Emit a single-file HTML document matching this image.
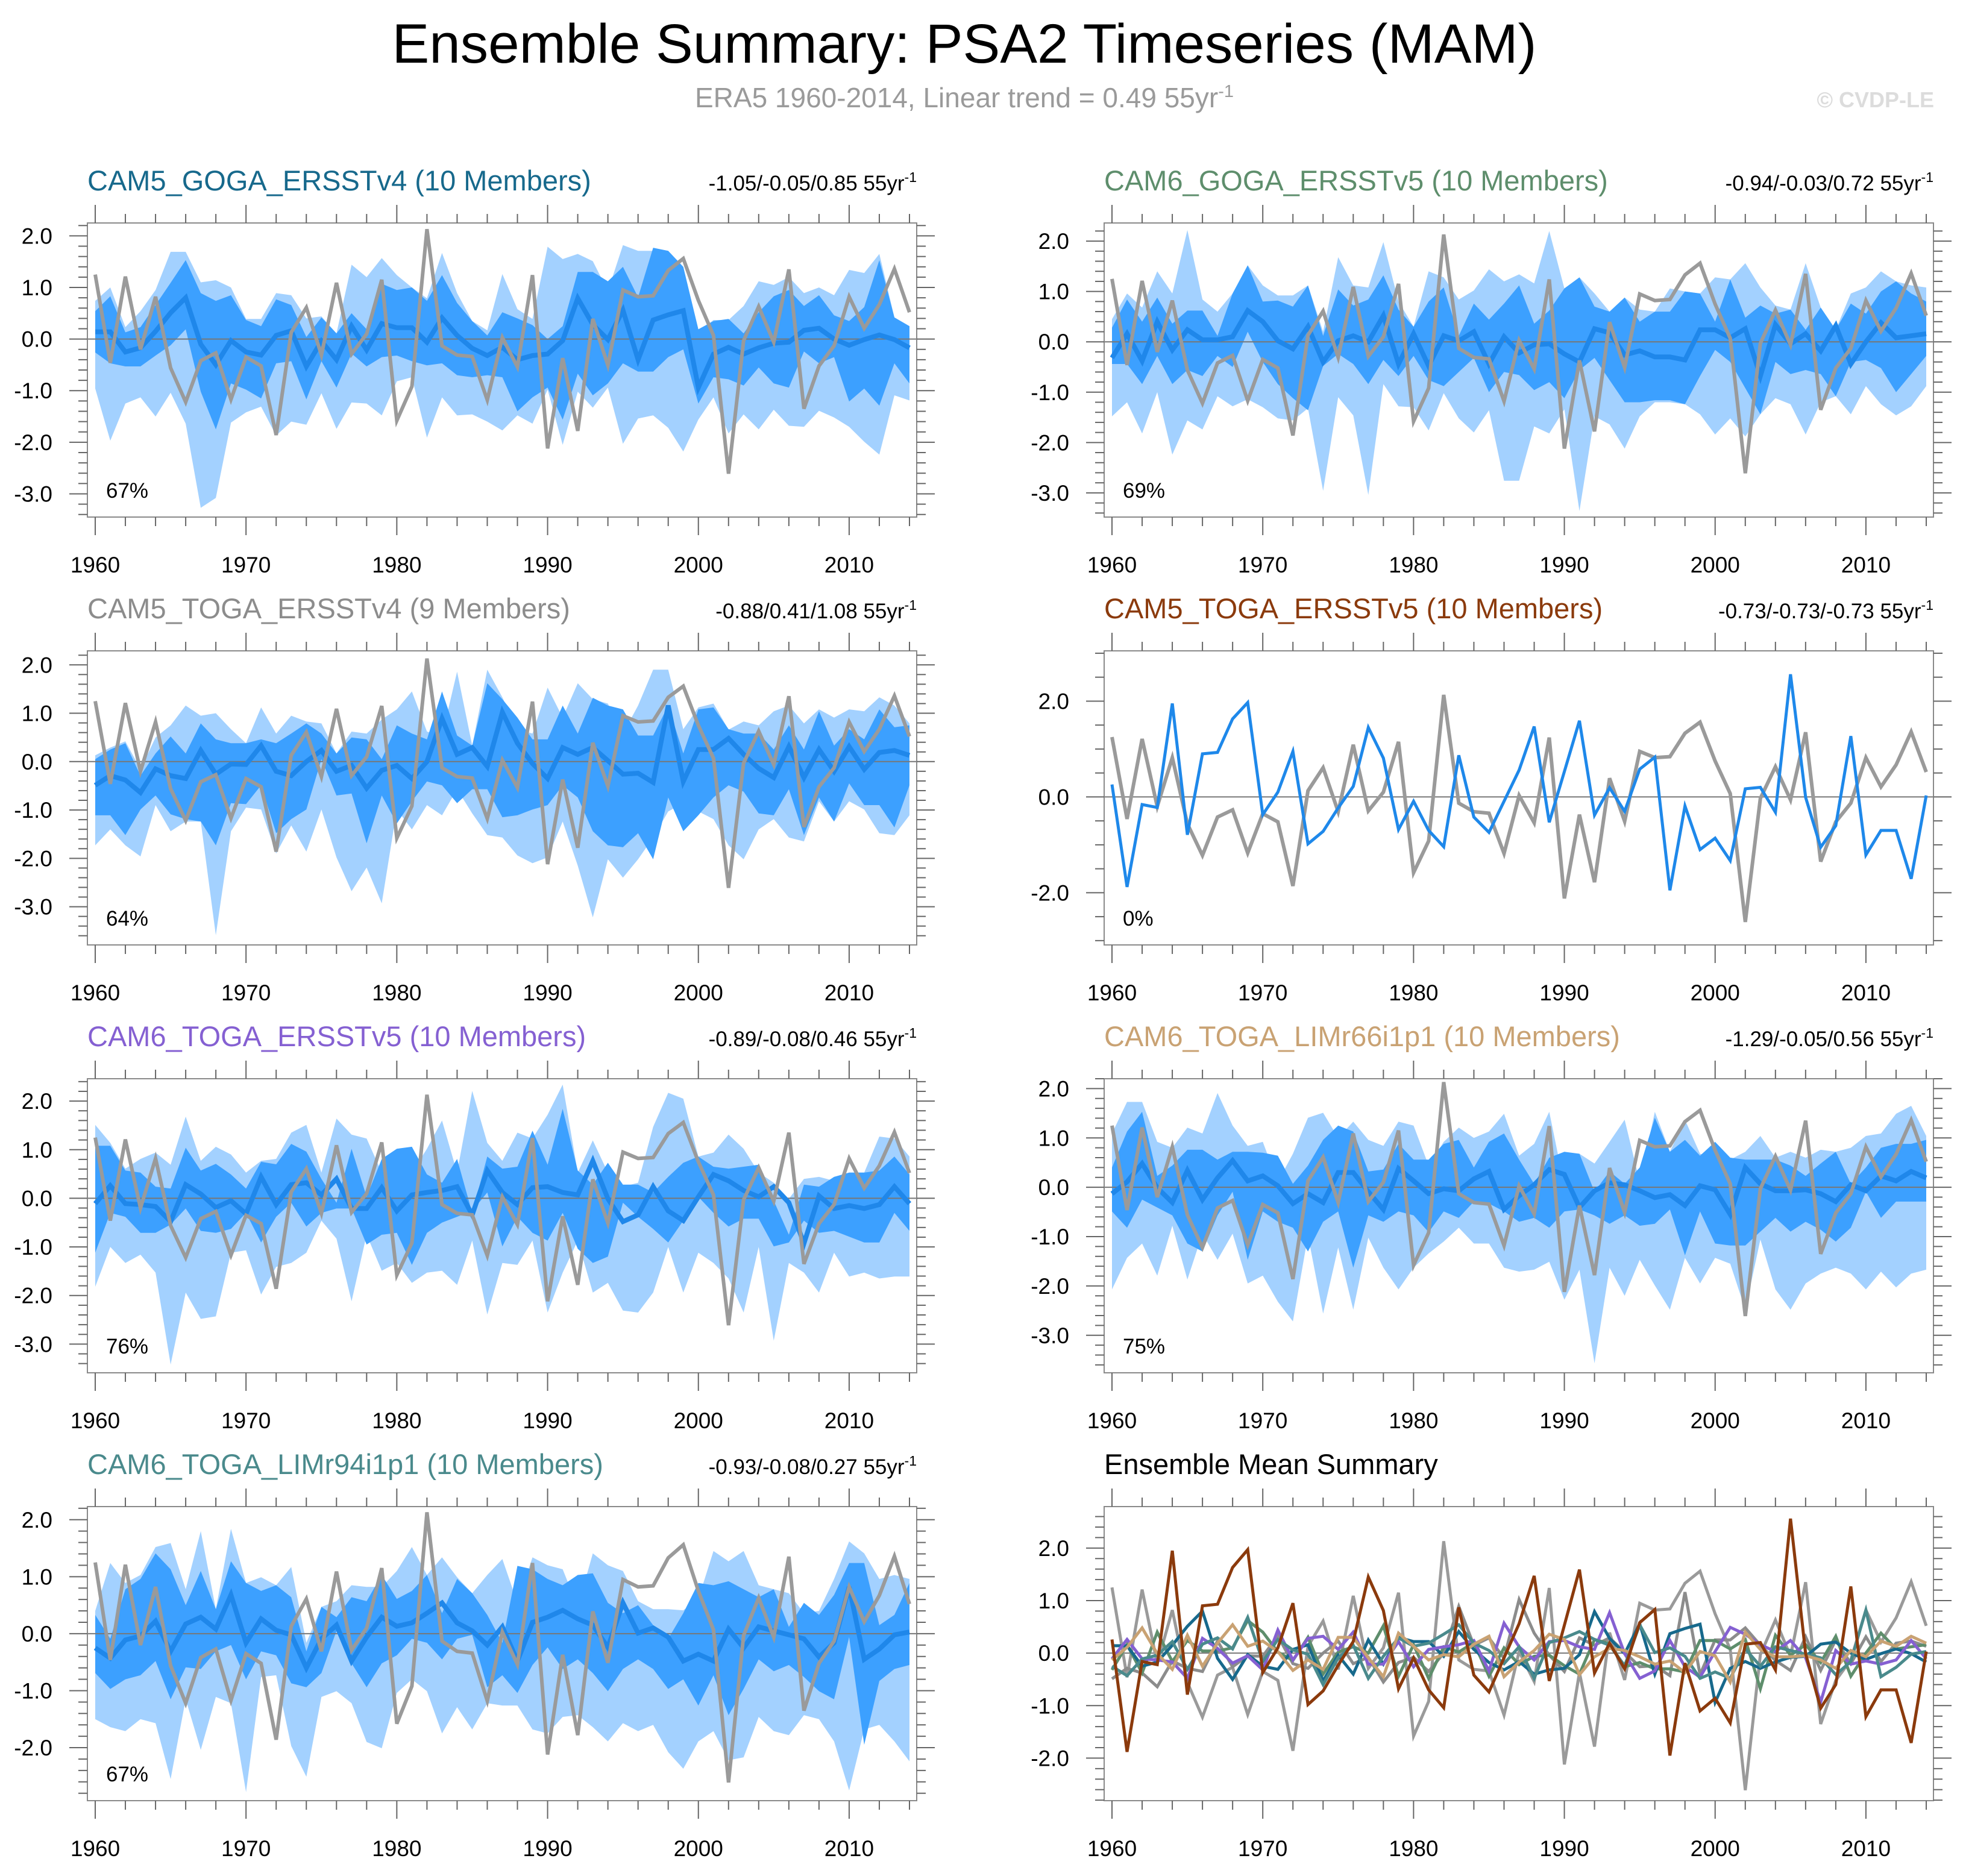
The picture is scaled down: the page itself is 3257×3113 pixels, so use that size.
<!DOCTYPE html>
<html><head><meta charset="utf-8"><title>Ensemble Summary: PSA2 Timeseries (MAM)</title>
<style>html,body{margin:0;padding:0;background:#fff}svg{display:block;font-family:"Liberation Sans",sans-serif}</style>
</head><body>
<svg id="chart" width="3257" height="3113" viewBox="0 0 3257 3113" xmlns="http://www.w3.org/2000/svg">
<text x="1600" y="104" font-size="92" text-anchor="middle" textLength="1899" lengthAdjust="spacingAndGlyphs" fill="#000">Ensemble Summary: PSA2 Timeseries (MAM)</text>
<text x="1600" y="178" font-size="46" text-anchor="middle" fill="#9a9a9a">ERA5 1960-2014, Linear trend = 0.49 55yr<tspan font-size="29" dy="-17">-1</tspan></text>
<text x="3209" y="178" font-size="36" font-weight="bold" text-anchor="end" fill="#dcdcdc">© CVDP-LE</text>
</svg>
<script>
const era = [1.25,-0.46,1.21,-0.2,0.82,-0.56,-1.22,-0.42,-0.27,-1.17,-0.35,-0.52,-1.86,0.13,0.61,-0.31,1.09,-0.29,0.1,1.15,-1.58,-0.92,2.13,-0.13,-0.31,-0.34,-1.18,0.03,-0.54,1.24,-2.12,-0.37,-1.78,0.39,-0.51,0.95,0.82,0.84,1.33,1.56,0.75,0.07,-2.61,-0.03,0.63,-0.06,1.35,-1.35,-0.52,-0.13,0.82,0.21,0.67,1.36,0.52];

const p1Mean = [0.14,0.14,-0.25,-0.17,0.15,0.51,0.8,-0.1,-0.5,-0.03,-0.25,-0.31,0.07,0.16,-0.53,-0.04,-0.4,0.25,-0.21,0.3,0.22,0.22,-0.06,0.41,0.07,-0.18,-0.32,-0.16,-0.4,-0.32,-0.29,-0.03,0.79,0.28,-0.01,0.56,-0.4,0.37,0.47,0.55,-0.94,-0.29,-0.16,-0.29,-0.17,-0.08,-0.06,0.17,0.21,0,-0.12,-0.01,0.08,-0.01,-0.17];
const p1InHi = [0.54,0.83,0.13,0.23,0.66,1.09,1.53,0.89,0.74,0.85,0.37,0.25,0.77,0.66,0.04,0.42,0.11,0.5,0.19,1.07,0.95,1.0,0.74,1.24,0.7,0.35,0.07,0.52,0.4,0.27,0,0.25,1.3,1.3,1.12,1.4,0.81,1.77,1.71,1.4,0.19,0.35,0.39,0.11,0.52,0.83,0.95,0.64,0.85,0.46,0.35,0.62,1.53,0.42,0.25];
const p1InLo = [-0.26,-0.47,-0.53,-0.53,-0.32,-0.12,0.19,-1.02,-1.75,-0.86,-0.98,-1.15,-0.47,-0.43,-1.17,-0.43,-0.94,-0.28,-0.53,-0.35,-0.32,-0.43,-0.51,-0.47,-0.7,-0.74,-0.7,-0.74,-1.4,-1.13,-0.94,-1.56,-0.67,-1.09,-0.86,-0.47,-0.63,-0.63,-0.35,-0.2,-1.25,-0.74,-0.78,-0.9,-0.55,-0.86,-0.94,-0.24,-0.47,-0.35,-1.21,-0.96,-1.29,-0.47,-0.86];
const p1OutHi = [0.74,1.0,0.23,0.54,0.95,1.69,1.69,1.1,1.14,1.0,0.39,0.39,0.89,0.85,0.4,0.44,0.11,1.44,1.2,1.57,1.24,1.0,0.79,1.67,0.89,0.35,0.17,1.26,0.58,0.39,1.79,1.55,1.65,1.51,0.93,1.82,1.71,1.71,1.71,1.2,0.13,0.37,0.37,0.64,1.12,1.05,1.2,0.89,1.0,0.85,1.34,1.28,1.65,0.42,0.25];
const p1OutLo = [-0.96,-1.97,-1.25,-1.13,-1.5,-1.04,-1.64,-3.27,-3.08,-1.62,-1.42,-1.31,-1.87,-1.6,-1.66,-1.05,-1.74,-1.23,-1.25,-1.48,-0.82,-0.74,-1.91,-1.13,-1.48,-1.46,-1.6,-1.77,-1.48,-1.64,-0.98,-2.05,-1.02,-1.33,-0.94,-2.03,-1.54,-1.48,-1.72,-2.18,-1.56,-1.13,-1.83,-1.46,-1.75,-1.37,-1.68,-1.7,-1.39,-1.52,-1.7,-1.99,-2.24,-1.09,-1.19];

const p2Mean = [-0.32,0.16,-0.38,0.4,-0.16,0.24,0.04,0.04,0.1,0.62,0.4,0.02,-0.14,0.3,-0.4,0.02,0.12,0,0.52,-0.44,0.16,-0.48,0.12,0.02,0.2,-0.44,0.1,-0.22,-0.06,-0.04,-0.24,-0.4,0.26,0.18,-0.26,-0.18,-0.3,-0.3,-0.36,0.24,0.24,0.08,0.26,-0.68,0.34,-0.04,0.16,-0.18,0.32,-0.44,0,0.38,0.08,0.12,0.16];
const p2InHi = [0.28,0.84,0.4,0.88,0.36,0.62,0.62,0.12,0.96,1.52,0.8,0.82,0.7,1.12,0.12,1.04,0.72,0.84,1.32,0.64,0.3,0.8,1.08,0.12,0.76,0.44,0.76,1.12,0.36,0.62,1.06,1.28,0.7,0.6,0.88,0.4,0.6,0.6,1.0,0.96,0.4,1.24,0.48,0.72,0.56,0.64,0.24,0.68,0.24,0.76,0.56,1.0,1.2,0.96,0.8];
const p2InLo = [-0.44,-0.44,-0.84,-0.28,-0.84,-0.56,-0.68,-0.28,-0.5,0.2,-0.4,-0.84,-1.12,-1.36,-0.48,-0.24,-0.44,-0.84,-0.36,-0.68,-0.28,-0.76,-0.88,-0.6,-0.32,-1.0,-0.6,-0.66,-0.96,-0.8,-1.12,-0.56,-0.32,-0.76,-1.2,-1.2,-1.16,-1.16,-1.24,-0.68,-0.16,-0.4,-0.92,-1.44,-0.4,-0.64,-0.56,-0.64,-1.08,-0.4,-0.36,-0.52,-1.0,-0.64,-0.28];
const p2OutHi = [0.45,0.96,0.68,1.4,0.96,2.22,0.84,0.6,0.96,1.52,1.12,0.92,0.92,1.12,0.2,1.68,1.12,1.08,1.98,0.8,0.3,1.4,1.28,0.84,1.02,1.44,1.2,1.34,1.16,2.2,1.06,1.28,0.96,0.6,0.88,0.64,0.6,1.06,1.0,0.96,1.28,1.24,1.56,1.08,0.72,0.64,1.56,0.68,0.24,0.96,1.08,1.4,1.2,1.12,1.08];
const p2OutLo = [-1.48,-1.2,-1.82,-1.0,-2.24,-1.56,-1.74,-1.08,-1.28,-1.14,-1.3,-1.52,-1.56,-1.32,-2.96,-1.1,-1.46,-3.04,-0.84,-1.28,-1.3,-1.76,-1.02,-1.52,-1.8,-1.36,-2.76,-2.76,-1.68,-1.82,-1.34,-3.36,-1.48,-1.64,-2.12,-1.48,-1.2,-1.2,-1.24,-1.44,-1.84,-1.52,-1.88,-1.44,-1.12,-1.24,-1.84,-1.2,-1.08,-1.44,-0.88,-1.24,-1.46,-1.28,-0.88];

const p3Mean = [-0.49,-0.29,-0.38,-0.64,-0.15,-0.29,-0.35,0.23,-0.26,-0.05,-0.06,0.33,-0.2,-0.29,0,0.23,-0.2,-0.08,-0.55,-0.18,-0.08,-0.35,0,0.89,0.15,0.29,-0.1,1.02,0.38,-0.04,-0.35,0.29,0.15,0.29,0.02,-0.26,-0.24,-0.43,1.16,-0.41,0.25,0.25,0.48,0.15,-0.14,-0.33,0.31,-0.33,0.25,-0.2,0.31,-0.16,0.19,0.23,0.13];
const p3InHi = [0.05,0.25,0.38,-0.29,0.17,0.52,0.17,0.79,0.46,0.38,0.38,0.46,0.38,0.58,0.79,0.58,0.17,0.5,0.46,0.05,0.75,0.58,0.46,1.45,0.54,0.33,1.62,1.29,0.91,0.46,0.46,1.16,0.58,1.32,1.16,1.08,0.54,0.54,1.16,0.17,1.08,1.12,0.67,0.58,0.58,0.25,0.75,0.25,1.04,0.33,0.67,0.46,1.08,0.71,0.75];
const p3InLo = [-1.11,-1.11,-1.52,-0.99,-0.7,-1.09,-1.19,-1.24,-1.73,-0.86,-0.88,-0.49,-1.48,-1.19,-0.99,0.05,-0.7,-0.66,-1.69,-0.7,-1.28,-0.82,-0.41,-0.49,-0.86,-0.57,-0.57,-1.15,-1.11,-0.99,-0.9,-0.49,-0.74,-1.44,-1.73,-1.77,-1.48,-2.02,-0.74,-1.44,-1.11,-0.74,-0.49,-0.62,-1.07,-1.11,-0.57,-1.52,-0.74,-1.24,-0.45,-0.9,-0.9,-1.36,-0.49];
const p3OutHi = [0.13,0.29,0.42,-0.16,0.5,0.75,1.16,0.95,1.0,0.67,0.38,1.12,0.58,0.95,0.83,0.79,0.17,0.62,0.58,0.87,1.08,1.45,0.62,0.54,1.86,0.33,1.9,1.33,0.67,0.58,1.53,0.91,1.62,1.29,1.2,0.58,1.16,1.9,1.9,0.67,1.12,1.2,0.66,0.83,0.75,1.04,1.16,0.79,1.08,0.91,1.08,1.04,1.33,1.16,0.79];
const p3OutLo = [-1.73,-1.4,-1.73,-1.96,-0.9,-1.44,-1.24,-1.24,-3.59,-1.44,-0.95,-0.99,-1.9,-1.32,-1.86,-0.99,-1.98,-2.68,-2.19,-2.93,-0.99,-1.4,-0.9,-1.11,-0.57,-1.07,-1.52,-1.57,-1.94,-2.1,-1.98,-1.24,-2.15,-3.22,-2.02,-2.4,-2.02,-1.57,-1.03,-0.86,-1.03,-1.19,-1.73,-2.02,-1.4,-1.19,-1.57,-1.65,-0.82,-1.24,-0.82,-0.99,-1.48,-1.52,-1.11];

const p4Member = [0.26,-1.88,-0.16,-0.22,1.95,-0.79,0.9,0.93,1.63,1.97,-0.37,0.1,0.95,-0.98,-0.72,-0.23,0.22,1.45,0.81,-0.68,-0.09,-0.7,-1.04,0.87,-0.42,-0.74,-0.09,0.56,1.47,-0.53,0.53,1.59,-0.38,0.19,-0.3,0.58,0.83,-1.95,-0.19,-1.1,-0.86,-1.33,0.17,0.2,-0.32,2.56,-0.01,-1.05,-0.6,1.27,-1.21,-0.7,-0.7,-1.71,0.03];

const p5Mean = [-0.11,0.26,-0.11,-0.13,-0.17,-0.48,0.28,0.09,-0.19,-0.05,-0.32,0.44,-0.13,0.28,0.32,0.07,0.4,-0.21,-0.21,0.22,-0.26,0.07,0.12,0.16,0.24,-0.34,0.57,0.12,-0.13,0.22,0.24,0.12,0.07,0.77,-0.01,-0.48,-0.34,0.24,-0.26,-0.46,0.03,0.49,0.36,0.16,0.03,0.24,-0.09,-0.93,0.05,-0.21,-0.15,-0.21,-0.13,0.24,-0.11];
const p5InHi = [1.08,1.08,0.57,0.53,0.24,0.2,1.04,0.57,0.71,0.49,0.2,0.75,0.7,1.12,0.96,0.4,-0.09,1.02,0.03,0.81,1.02,1.06,0.49,0.32,0.81,-0.3,0.86,0.61,0.65,1.39,0.69,1.84,0.57,0.28,0.73,0.28,0.28,0.12,0.44,0.73,0.86,0.65,0.61,0.65,0.69,-0.05,-0.75,0.28,0.24,0.44,0.53,0.53,0.57,0.86,0.49];
const p5InLo = [-1.12,-0.3,-0.38,-0.71,-0.71,-0.54,-0.21,-0.67,-0.71,-0.63,-0.3,-0.91,-0.38,-0.09,-0.58,-0.3,-0.21,-0.21,-0.95,-0.75,-0.71,-1.37,-0.71,-0.5,-0.38,-0.26,0.12,-0.99,-0.38,-0.71,-0.87,-0.3,-1.04,-1.33,-1.2,-0.09,-0.38,-0.63,-0.91,-0.46,0.03,-0.3,-0.58,-0.42,-0.42,-0.99,-0.91,-0.46,-0.71,-0.67,-0.79,-0.91,-0.91,-0.3,-0.67];
const p5OutHi = [1.51,1.14,0.61,0.81,0.94,0.69,1.68,0.77,1.06,0.9,0.53,0.77,0.81,1.35,1.51,0.53,1.64,1.31,1.23,0.53,0.86,0.53,1.02,1.6,0.53,2.21,1.14,0.77,1.35,1.23,1.72,2.34,0.53,1.19,0.53,0.24,0.32,1.47,2.17,2.05,0.86,0.94,1.31,1.02,0.53,0.32,-0.01,0.4,0.44,0.36,0.53,0.53,1.27,1.23,0.86];
const p5OutLo = [-1.82,-1.0,-1.33,-1.16,-1.53,-3.42,-1.94,-2.48,-2.43,-1.12,-1.07,-1.98,-1.41,-1.33,-1.12,-0.46,-0.83,-2.12,-0.75,-1.49,-1.33,-1.74,-1.53,-1.49,-1.78,-0.87,-2.39,-1.33,-1.37,-0.87,-2.35,-1.53,-0.87,-1.94,-1.74,-2.31,-2.35,-1.94,-1.0,-1.94,-1.12,-1.33,-1.65,-2.35,-1.0,-2.93,-1.33,-1.53,-1.94,-1.12,-1.61,-1.53,-1.65,-1.61,-1.61];

const p6Mean = [-0.13,0.11,0.48,-0.01,-0.31,0.34,-0.25,0.19,0.54,0.13,0.23,0.03,-0.33,-0.13,-0.31,0.3,0.3,-0.09,-0.45,0.38,0.13,-0.13,-0.03,-0.07,0.17,0.32,-0.45,-0.17,0.05,0.36,0.26,-0.41,-0.07,0.09,0.05,-0.07,-0.21,-0.15,-0.37,0.03,-0.05,-0.55,0.4,0.07,-0.07,-0.07,-0.05,-0.13,-0.29,0.05,-0.07,0.23,0.13,0.32,0.19];
const p6InHi = [0.4,1.13,1.53,0.23,0.44,0.76,0.76,0.56,0.72,0.72,0.7,0.64,0.07,0.44,0.96,1.25,1.13,0.32,0.36,0.88,0.56,0.56,0.88,0.96,0.4,0.92,1.09,0.56,0.07,0.6,0.72,0.68,-0.09,0.32,0.07,0.4,1.41,0.72,0.96,0.64,0.92,0.6,0.56,0.56,0.56,0.44,0.23,0.48,0.72,0.07,0.4,0.8,0.88,0.88,0.96];
const p6InLo = [-0.49,-0.82,-0.25,-0.41,-0.57,-1.14,-1.3,-0.57,-0.09,-1.47,-0.49,-0.7,-0.82,-1.3,-0.7,-0.49,-1.63,-0.57,-0.7,-0.49,-0.57,-0.91,-0.49,-0.62,-0.29,-0.33,-0.49,-0.7,-0.62,-0.82,-0.49,-0.45,-0.57,-0.74,-0.57,-0.78,-0.74,-0.45,-1.38,-0.49,-1.14,-1.18,-1.18,-0.9,-0.62,-0.9,-0.7,-0.86,-1.1,-0.82,-0.09,-0.62,-0.29,-0.29,-0.29];
const p6OutHi = [1.09,1.73,1.73,0.92,0.8,1.21,1.09,1.91,1.25,0.84,0.92,0.11,0.68,1.41,1.51,1.0,1.33,0.96,0.84,1.33,1.25,0.44,0.92,1.21,1.0,1.13,1.49,0.64,0.88,1.53,0.03,0.68,0.48,0.92,1.37,0.11,1.53,0.72,1.37,0.68,0.6,0.56,0.72,1.04,0.6,0.72,0.6,0.76,0.72,0.8,1.04,1.09,1.49,1.65,1.04];
const p6OutLo = [-2.07,-1.43,-1.14,-1.79,-0.78,-1.87,-0.94,-1.47,-0.94,-1.95,-1.79,-2.32,-2.72,-0.98,-2.56,-1.22,-2.48,-1.02,-1.63,-2.07,-1.63,-1.34,-1.1,-0.82,-1.14,-1.14,-1.63,-1.71,-1.67,-1.51,-2.28,-1.67,-3.57,-1.63,-2.2,-1.47,-1.99,-2.48,-1.43,-1.95,-1.43,-1.55,-2.48,-1.06,-2.07,-2.48,-1.95,-1.75,-1.63,-1.75,-2.07,-1.71,-2.03,-1.75,-1.67];

const p7Mean = [-0.25,-0.43,-0.11,-0.04,0.22,-0.31,0.17,0.29,0.08,0.68,-0.16,0.26,0.06,-0.02,-0.6,-0.09,0.15,-0.48,-0.06,0.29,0.13,0.19,0.36,0.54,0.19,0.05,-0.2,0.12,-0.48,0.2,0.29,0.41,0.26,0.15,-0.24,0.54,0.01,0.1,-0.06,-0.48,-0.36,-0.48,0.08,-0.25,0.12,0.05,-0.02,-0.09,-0.41,-0.16,0.82,-0.45,-0.27,-0.02,0.03];
const p7InHi = [0.33,-0.09,0.78,0.96,1.41,1.13,0.5,1.1,0.43,1.27,0.89,0.75,0.85,0.64,-0.31,0.47,0.29,0.64,0.57,1.03,0.61,0.75,1.03,0.36,0.96,0.71,0.33,-0.16,1.19,1.13,0.96,0.85,1.03,1.06,0.54,0.36,0.5,0.15,-0.09,0.36,0.89,0.85,0.92,0.78,0.64,0.78,0.12,0.54,0.33,0.68,1.24,1.24,0.15,0.33,0.89];
const p7InLo = [-0.69,-0.97,-0.8,-0.73,-0.48,-1.15,-0.59,-0.62,-0.31,-0.2,-0.8,-0.31,-0.38,-0.87,-0.94,-0.69,0.05,-0.52,-0.94,-0.52,-0.38,-0.09,-0.16,-0.45,-0.09,-0.02,-0.94,-0.73,-1.04,-0.55,-0.24,-0.62,-0.45,-0.69,-1.01,-0.62,-0.45,-0.62,-0.97,-0.8,-1.26,-0.73,-1.43,-0.97,-0.45,-0.66,-0.55,-0.76,-1.01,-1.15,-0.06,-1.95,-0.83,-0.62,-0.55];
const p7OutHi = [0.4,1.24,0.89,1.03,1.52,1.59,0.78,1.8,0.43,1.84,0.89,0.99,0.85,1.17,-0.16,0.47,0.57,0.85,0.82,0.82,1.1,1.52,1.03,1.34,0.99,0.71,1.03,1.31,0.54,1.34,1.2,1.13,0.47,1.41,1.2,1.1,0.57,0.43,0.43,0.41,0.61,1.45,1.27,1.45,0.85,0.78,0.71,0.36,0.4,0.96,1.62,1.41,0.96,1.03,0.96];
const p7OutLo = [-1.5,-1.64,-1.71,-1.5,-1.57,-2.55,-1.15,-2.04,-1.11,-1.22,-2.78,-0.76,-0.73,-1.97,-2.51,-1.11,-1.01,-1.22,-1.9,-2.01,-1.04,-0.8,-1.01,-1.75,-1.29,-1.68,-1.22,-1.26,-1.26,-1.68,-1.75,-1.46,-1.43,-1.64,-1.89,-1.57,-1.71,-1.6,-2.08,-2.37,-1.89,-1.71,-2.22,-2.17,-1.46,-1.71,-1.78,-1.43,-1.5,-1.89,-2.75,-1.68,-1.6,-1.89,-2.24];

const yTicks5 = [2.0,1.0,0.0,-1.0,-2.0,-3.0];
const yTicks3 = [2.0,0.0,-2.0];
const yTicks4 = [2.0,1.0,0.0,-1.0,-2.0];
const xTickYears = [1960,1970,1980,1990,2000,2010];

const svg = document.getElementById('chart');
const NS = 'http://www.w3.org/2000/svg';
function mk(tag, attrs, parent) {
  const e = document.createElementNS(NS, tag);
  for (const k in attrs) e.setAttribute(k, attrs[k]);
  (parent || svg).appendChild(e);
  return e;
}
const BW = 1376, BH = 488;
const OUTER = '#a3d1ff', INNER = '#3ca0ff', MEANC = '#1f87ea', ERAC = '#9a9a9a';

function drawPanel(cfg) {
  const L = cfg.L, T = cfg.T, B = T + BH, R = L + BW;
  const g = mk('g', {});
  
  
  const xs = yr => L + 13 + (yr - 1960) * (1351 / 54);
  const ys = v => T + (cfg.ymax - v) / (cfg.ymax - cfg.ymin) * BH;
  const n = 55;
  function band(lo, hi, color, nm) {
    const cnt = Math.min(lo.length, hi.length, n);
    let pts = [];
    for (let i = 0; i < cnt; i++) pts.push(xs(1960 + i).toFixed(1) + ',' + ys(hi[i]).toFixed(1));
    for (let i = cnt - 1; i >= 0; i--) pts.push(xs(1960 + i).toFixed(1) + ',' + ys(lo[i]).toFixed(1));
    const p = mk('polygon', {points: pts.join(' '), fill: color}, g);
    
    
  }
  function line(vals, color, w, nm) {
    const pts = vals.slice(0, n).map((v, i) => xs(1960 + i).toFixed(1) + ',' + ys(v).toFixed(1));
    const p = mk('polyline', {points: pts.join(' '), fill: 'none', stroke: color, 'stroke-width': w, 'stroke-linejoin': 'miter'}, g);
    
    
  }
  if (cfg.bands) {
    band(cfg.bands[0], cfg.bands[1], OUTER, 'outer-spread-band');
    band(cfg.bands[2], cfg.bands[3], INNER, 'inner-spread-band');
  }
  const z = mk('line', {x1: L, x2: R, y1: ys(0), y2: ys(0), stroke: '#777', 'stroke-width': 2}, g);
  
  
  (cfg.lines || []).forEach(l => line(l.v, l.c, l.w, l.n));
  const box = mk('rect', {x: L, y: T, width: BW, height: BH, fill: 'none', stroke: '#8a8a8a', 'stroke-width': 2}, g);
  
  
  for (let yr = 1960; yr <= 2014; yr += 2) {
    const major = (yr % 10 === 0);
    const len = major ? 30 : 15;
    const x = xs(yr);
    mk('line', {x1: x, x2: x, y1: B, y2: B + len, stroke: '#666', 'stroke-width': 2}, g);
    mk('line', {x1: x, x2: x, y1: T, y2: T - len, stroke: '#666', 'stroke-width': 2}, g);
  }
  xTickYears.forEach(yr => {
    const t = mk('text', {x: xs(yr), y: B + 92, 'font-size': 37, 'text-anchor': 'middle', fill: '#000'}, g);
    
    
    t.textContent = yr;
  });
  const lo = Math.ceil(cfg.ymin / cfg.minor - 1e-6), hi = Math.floor(cfg.ymax / cfg.minor + 1e-6);
  for (let k = lo; k <= hi; k++) {
    const v = k * cfg.minor;
    const major = Math.abs(v / cfg.major - Math.round(v / cfg.major)) < 1e-6;
    const len = major ? 30 : 15;
    const y = ys(v);
    mk('line', {x1: L, x2: L - len, y1: y, y2: y, stroke: '#666', 'stroke-width': 2}, g);
    mk('line', {x1: R, x2: R + len, y1: y, y2: y, stroke: '#666', 'stroke-width': 2}, g);
  }
  cfg.yTicks.forEach(v => {
    const t = mk('text', {x: L - 58, y: ys(v) + 13, 'font-size': 37, 'text-anchor': 'end', fill: '#000'}, g);
    
    
    t.textContent = v.toFixed(1);
  });
  const tt = mk('text', {x: L, y: T - 54, 'font-size': 47, fill: cfg.tcolor}, g);
  
  
  tt.textContent = cfg.title;
  if (cfg.right) {
    const rt = mk('text', {x: R, y: T - 54, 'font-size': 35, 'text-anchor': 'end', fill: '#000'}, g);
    
    
    rt.appendChild(document.createTextNode(cfg.right + ' 55yr'));
    const sp = mk('tspan', {'font-size': 23, dy: -14}, rt);
    sp.textContent = '-1';
  }
  if (cfg.pct) {
    const pt = mk('text', {x: L + 31, y: B - 32, 'font-size': 35, fill: '#000'}, g);
    
    
    pt.textContent = cfg.pct;
  }
}

const LX = 145, RX = 1832;
const rows = [370, 1080, 1790, 2500];
function std(m) {
  return [{v: m, c: MEANC, w: 8, n: 'ensemble-mean-line'}, {v: era, c: ERAC, w: 6, n: 'era5-line'}];
}
drawPanel({name: 'panel-cam5-goga-ersstv4', L: LX, T: rows[0], ymin: -3.45, ymax: 2.25, major: 1, minor: 0.2, yTicks: yTicks5,
  title: 'CAM5_GOGA_ERSSTv4 (10 Members)', tcolor: '#17698c', right: '-1.05/-0.05/0.85', pct: '67%',
  bands: [p1OutLo, p1OutHi, p1InLo, p1InHi], lines: std(p1Mean)});
drawPanel({name: 'panel-cam6-goga-ersstv5', L: RX, T: rows[0], ymin: -3.48, ymax: 2.36, major: 1, minor: 0.2, yTicks: yTicks5,
  title: 'CAM6_GOGA_ERSSTv5 (10 Members)', tcolor: '#5e8e6c', right: '-0.94/-0.03/0.72', pct: '69%',
  bands: [p2OutLo, p2OutHi, p2InLo, p2InHi], lines: std(p2Mean)});
drawPanel({name: 'panel-cam5-toga-ersstv4', L: LX, T: rows[1], ymin: -3.79, ymax: 2.29, major: 1, minor: 0.2, yTicks: yTicks5,
  title: 'CAM5_TOGA_ERSSTv4 (9 Members)', tcolor: '#8c8c8c', right: '-0.88/0.41/1.08', pct: '64%',
  bands: [p3OutLo, p3OutHi, p3InLo, p3InHi], lines: std(p3Mean)});
drawPanel({name: 'panel-cam5-toga-ersstv5', L: RX, T: rows[1], ymin: -3.09, ymax: 3.05, major: 2, minor: 0.5, yTicks: yTicks3,
  title: 'CAM5_TOGA_ERSSTv5 (10 Members)', tcolor: '#8b3a0c', right: '-0.73/-0.73/-0.73', pct: '0%',
  lines: [{v: era, c: ERAC, w: 6, n: 'era5-line'}, {v: p4Member, c: '#1e88ea', w: 5, n: 'member-line'}]});
drawPanel({name: 'panel-cam6-toga-ersstv5', L: LX, T: rows[2], ymin: -3.59, ymax: 2.46, major: 1, minor: 0.2, yTicks: yTicks5,
  title: 'CAM6_TOGA_ERSSTv5 (10 Members)', tcolor: '#8560d2', right: '-0.89/-0.08/0.46', pct: '76%',
  bands: [p5OutLo, p5OutHi, p5InLo, p5InHi], lines: std(p5Mean)});
drawPanel({name: 'panel-cam6-toga-limr66', L: RX, T: rows[2], ymin: -3.76, ymax: 2.2, major: 1, minor: 0.2, yTicks: yTicks5,
  title: 'CAM6_TOGA_LIMr66i1p1 (10 Members)', tcolor: '#c9a273', right: '-1.29/-0.05/0.56', pct: '75%',
  bands: [p6OutLo, p6OutHi, p6InLo, p6InHi], lines: std(p6Mean)});
drawPanel({name: 'panel-cam6-toga-limr94', L: LX, T: rows[3], ymin: -2.93, ymax: 2.23, major: 1, minor: 0.2, yTicks: yTicks4,
  title: 'CAM6_TOGA_LIMr94i1p1 (10 Members)', tcolor: '#4a8a8c', right: '-0.93/-0.08/0.27', pct: '67%',
  bands: [p7OutLo, p7OutHi, p7InLo, p7InHi], lines: std(p7Mean)});
drawPanel({name: 'panel-ensemble-mean-summary', L: RX, T: rows[3], ymin: -2.81, ymax: 2.79, major: 1, minor: 0.2, yTicks: yTicks4,
  title: 'Ensemble Mean Summary', tcolor: '#000',
  lines: [
    {v: era, c: ERAC, w: 5, n: 'era5-line'},
    {v: p3Mean, c: '#8c8c8c', w: 5, n: 'cam5-toga-ersstv4-mean'},
    {v: p2Mean, c: '#5e8e6c', w: 5, n: 'cam6-goga-ersstv5-mean'},
    {v: p1Mean, c: '#17698c', w: 5, n: 'cam5-goga-ersstv4-mean'},
    {v: p5Mean, c: '#8560d2', w: 5, n: 'cam6-toga-ersstv5-mean'},
    {v: p7Mean, c: '#4a8a8c', w: 5, n: 'cam6-toga-limr94-mean'},
    {v: p6Mean, c: '#c9a273', w: 5, n: 'cam6-toga-limr66-mean'},
    {v: p4Member, c: '#8b3a0c', w: 5, n: 'cam5-toga-ersstv5-mean'}
  ]});
</script>
</body></html>
